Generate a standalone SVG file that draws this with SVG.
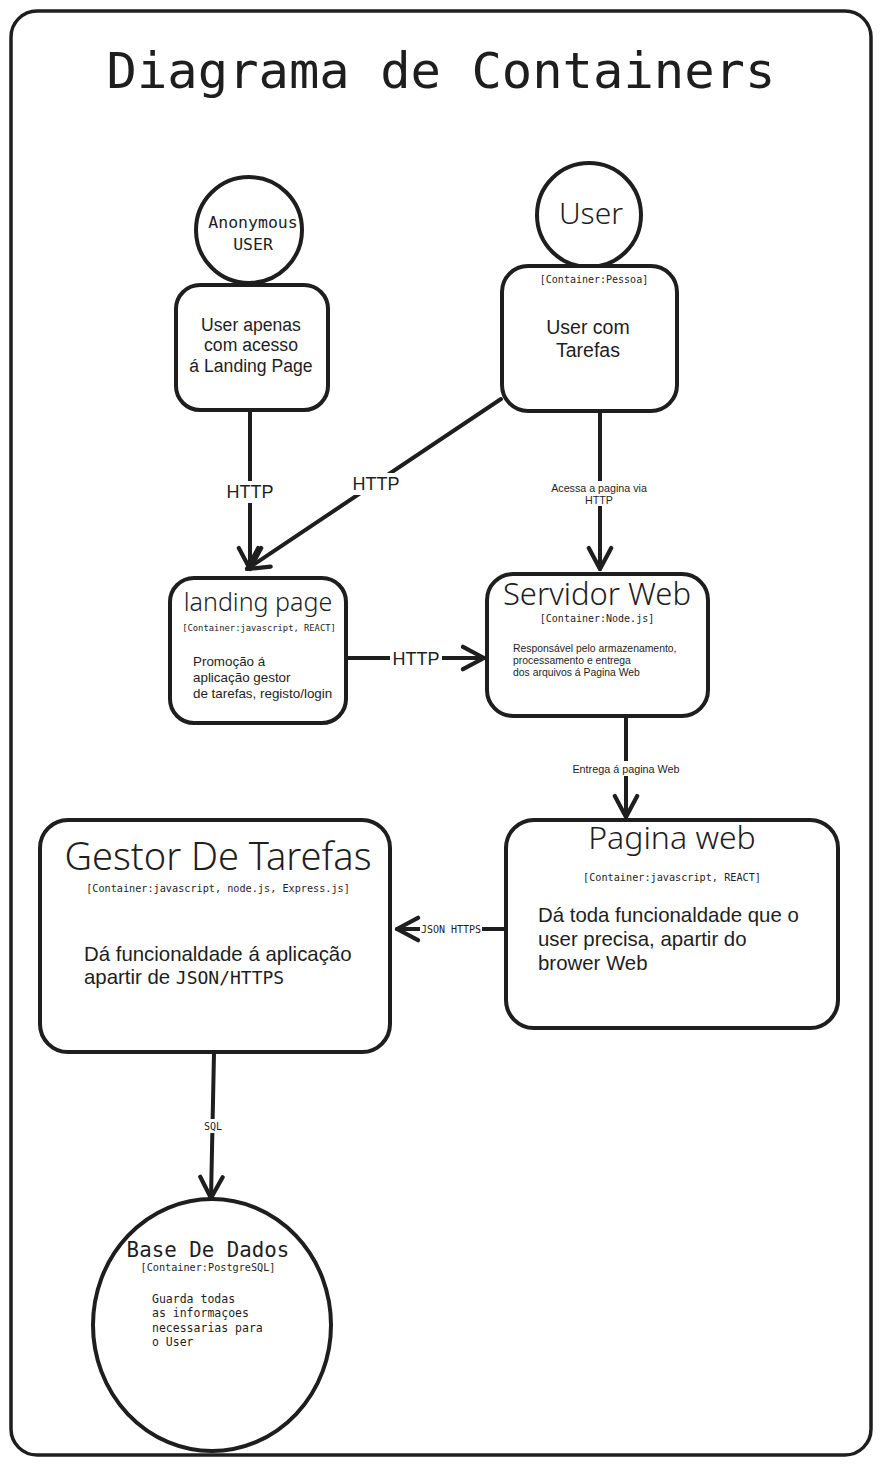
<svg xmlns="http://www.w3.org/2000/svg" width="881" height="1465" viewBox="0 0 881 1465">
<defs>
<style>
.box{fill:#fff;stroke:#1e1e1e;stroke-width:4}
.edge{fill:none;stroke:#1e1e1e;stroke-width:4;stroke-linecap:round}
.mono{font-family:"DejaVu Sans Mono","Liberation Mono",monospace;fill:#1e1e1e}
.sans{font-family:"Liberation Sans",Arial,sans-serif;fill:#1e1e1e}
.hand{font-family:"Noto Sans","DejaVu Sans",sans-serif;font-weight:300;fill:#1e1e1e}
.lbl{fill:#fff;stroke:none}
</style>
<marker id="arr" viewBox="0 0 20 20" refX="17" refY="10" markerWidth="7" markerHeight="7" orient="auto" markerUnits="strokeWidth">
<path d="M2,2 L17,10 L2,18" fill="none" stroke="#1e1e1e" stroke-width="3" stroke-linecap="round" stroke-linejoin="round"/>
</marker>
</defs>
<rect width="881" height="1465" fill="#fff"/>
<rect x="11" y="11" width="860" height="1444" rx="26" fill="#fff" stroke="#1e1e1e" stroke-width="3.5"/>
<text class="mono" x="441" y="88" font-size="50.5" text-anchor="middle">Diagrama de Containers</text>

<g id="connectors">
<path class="edge" d="M250,410 L250,569" marker-end="url(#arr)"/>
<rect class="lbl" x="222" y="481" width="56" height="22"/>
<text class="sans" x="250" y="498" font-size="18" text-anchor="middle">HTTP</text>
<path class="edge" d="M501,399 L247,569" marker-end="url(#arr)"/>
<rect class="lbl" x="349" y="473" width="54" height="22"/>
<text class="sans" x="376" y="490" font-size="18" text-anchor="middle">HTTP</text>
<path class="edge" d="M600,413 L600,569" marker-end="url(#arr)"/>
<rect class="lbl" x="546" y="481" width="108" height="25"/>
<text class="sans" x="599" y="492" font-size="10.7" text-anchor="middle">Acessa a pagina via</text>
<text class="sans" x="599" y="504" font-size="10.7" text-anchor="middle">HTTP</text>
<path class="edge" d="M347,658 L484,658" marker-end="url(#arr)"/>
<rect class="lbl" x="390" y="648" width="52" height="22"/>
<text class="sans" x="416" y="665" font-size="18" text-anchor="middle">HTTP</text>
<path class="edge" d="M626,717 L626,817" marker-end="url(#arr)"/>
<rect class="lbl" x="568" y="761" width="116" height="15"/>
<text class="sans" x="626" y="773" font-size="10.8" text-anchor="middle">Entrega á pagina Web</text>
<path class="edge" d="M505,929 L397,929" marker-end="url(#arr)"/>
<rect class="lbl" x="420" y="923" width="62" height="14"/>
<text class="mono" x="451" y="933" font-size="10" text-anchor="middle">JSON HTTPS</text>
<path class="edge" d="M214,1053 L211,1198" marker-end="url(#arr)"/>
<rect class="lbl" x="201" y="1119" width="24" height="14"/>
<text class="mono" x="213" y="1130" font-size="10" text-anchor="middle">SQL</text>
</g>

<g id="anon-user">
<circle class="box" cx="249" cy="230" r="53"/>
<text class="mono" x="253" y="228" font-size="16.5" text-anchor="middle">Anonymous</text>
<text class="mono" x="253" y="250" font-size="16.5" text-anchor="middle">USER</text>
</g>
<g id="anon-box">
<rect class="box" x="176" y="285" width="152" height="125" rx="24"/>
<text class="sans" x="251" y="331" font-size="17.6" text-anchor="middle">User apenas</text>
<text class="sans" x="251" y="351" font-size="17.6" text-anchor="middle">com acesso</text>
<text class="sans" x="251" y="372" font-size="17.6" text-anchor="middle">á Landing Page</text>
</g>

<g id="user">
<circle class="box" cx="589" cy="215" r="52"/>
<text class="hand" x="591" y="224" font-size="30" text-anchor="middle">User</text>
</g>
<g id="user-box">
<rect class="box" x="502" y="266" width="175" height="145" rx="26"/>
<text class="mono" x="594" y="283" font-size="10" text-anchor="middle">[Container:Pessoa]</text>
<text class="sans" x="588" y="334" font-size="19.5" text-anchor="middle">User com</text>
<text class="sans" x="588" y="357" font-size="19.5" text-anchor="middle">Tarefas</text>
</g>

<g id="landing-page">
<rect class="box" x="170" y="578" width="176" height="145" rx="24"/>
<text class="hand" x="258" y="611" font-size="25" text-anchor="middle">landing page</text>
<text class="mono" x="259" y="631" font-size="8.8" text-anchor="middle">[Container:javascript, REACT]</text>
<text class="sans" x="193" y="666" font-size="13.4">Promoção á</text>
<text class="sans" x="193" y="682" font-size="13.4">aplicação gestor</text>
<text class="sans" x="193" y="698" font-size="13.4">de tarefas, registo/login</text>
</g>

<g id="servidor-web">
<rect class="box" x="487" y="574" width="221" height="142" rx="26"/>
<text class="hand" x="597" y="605" font-size="31" text-anchor="middle">Servidor Web</text>
<text class="mono" x="597" y="622" font-size="10" text-anchor="middle">[Container:Node.js]</text>
<text class="sans" x="513" y="652" font-size="10.4">Responsável pelo armazenamento,</text>
<text class="sans" x="513" y="664" font-size="10.4">processamento e entrega</text>
<text class="sans" x="513" y="676" font-size="10.4">dos arquivos á Pagina Web</text>
</g>

<g id="pagina-web">
<rect class="box" x="506" y="820" width="332" height="208" rx="28"/>
<text class="hand" x="672" y="849" font-size="32" text-anchor="middle">Pagina web</text>
<text class="mono" x="672" y="881" font-size="10.2" text-anchor="middle">[Container:javascript, REACT]</text>
<text class="sans" x="538" y="922" font-size="20.4">Dá toda funcionaldade que o</text>
<text class="sans" x="538" y="946" font-size="20.4">user precisa, apartir do</text>
<text class="sans" x="538" y="970" font-size="20.4">brower Web</text>
</g>

<g id="gestor-tarefas">
<rect class="box" x="40" y="820" width="350" height="232" rx="28"/>
<text class="hand" x="218" y="870" font-size="38" text-anchor="middle">Gestor De Tarefas</text>
<text class="mono" x="218" y="892" font-size="10.2" text-anchor="middle">[Container:javascript, node.js, Express.js]</text>
<text class="sans" x="84" y="961" font-size="20.4">Dá funcionaldade á aplicação</text>
<text class="sans" x="84" y="984" font-size="20.4">apartir de <tspan class="mono" font-size="18">JSON/HTTPS</tspan></text>
</g>

<g id="base-de-dados">
<ellipse class="box" cx="212" cy="1325" rx="119" ry="126"/>
<text class="mono" x="208" y="1257" font-size="20.8" text-anchor="middle">Base De Dados</text>
<text class="mono" x="208" y="1271" font-size="10.2" text-anchor="middle">[Container:PostgreSQL]</text>
<text class="mono" x="152" y="1303" font-size="11.5">Guarda todas</text>
<text class="mono" x="152" y="1317" font-size="11.5">as informaçoes</text>
<text class="mono" x="152" y="1332" font-size="11.5">necessarias para</text>
<text class="mono" x="152" y="1346" font-size="11.5">o User</text>
</g>
</svg>
